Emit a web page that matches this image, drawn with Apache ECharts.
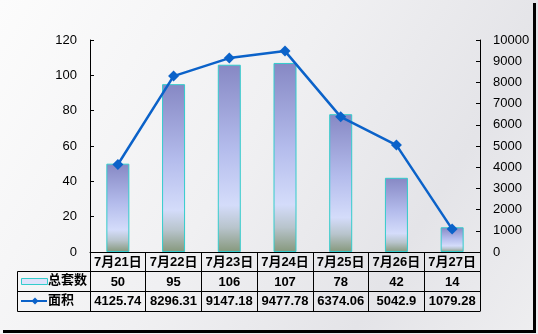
<!DOCTYPE html>
<html><head><meta charset="utf-8">
<script src="https://cdn.jsdelivr.net/npm/echarts@6/dist/echarts.min.js"></script>
<style>html,body{margin:0;padding:0;background:#fff}#c{width:538px;height:334px}</style>
</head><body><div id="c"></div>
<script>
const categories = ['7月21日','7月22日','7月23日','7月24日','7月25日','7月26日','7月27日'];
const totalUnits = [50, 95, 106, 107, 78, 42, 14];
const areaValues = [4125.74, 8296.31, 9147.18, 9477.78, 6374.06, 5042.9, 1079.28];
const areaLabels = ['4125.74','8296.31','9147.18','9477.78','6374.06','5042.9','1079.28'];
const seriesNames = ['总套数', '面积'];
const leftAxis = {min: 0, max: 120, interval: 20};
const rightAxis = {min: 0, max: 10000, interval: 1000};

const FONT = '"Liberation Sans", Arial, "Noto Sans CJK SC", sans-serif';
const GL = 90, GT = 40, GW = 390, GH = 212;
const ROW1 = GT + GH + 19.5, ROW2 = GT + GH + 39.5, ROW3 = GT + GH + 59.5;
const TX = 17.5;

const chart = echarts.init(document.getElementById('c'), null, {renderer: 'canvas'});
const tableLabel = (fmt) => ({
  show: true, interval: 0, margin: 3, color: '#000', fontFamily: FONT,
  fontWeight: 'bold', fontSize: 13, lineHeight: 14, formatter: fmt
});
const hiddenAxisBits = {axisTick: {show: false}, splitLine: {show: false}, axisLine: {show: false, onZero: false}};
const black = {color: '#000', width: 1};
const hline = (y, x1) => ({type: 'line', z: 50, shape: {x1: x1, y1: y, x2: GL + GW, y2: y}, style: {stroke: '#000', lineWidth: 1}});

chart.setOption({
  animation: false,
  backgroundColor: new echarts.graphic.LinearGradient(0, 0, 1, 1, [
    {offset: 0, color: '#fcfcfc'}, {offset: 0.45, color: '#f0f0f2'}, {offset: 0.75, color: '#e4e4e8'}, {offset: 1, color: '#eeeef0'}
  ]),
  grid: {left: GL, top: GT, width: GW, height: GH, containLabel: false},
  xAxis: [
    {type: 'category', data: categories, position: 'bottom',
     axisLine: {show: true, onZero: false, lineStyle: black},
     axisTick: {show: true, interval: 0, alignWithLabel: false, inside: false, length: ROW3 - (GT + GH), lineStyle: black},
     axisLabel: tableLabel(v => v), splitLine: {show: false}},
    Object.assign({type: 'category', data: categories, position: 'bottom', offset: 20,
     axisLabel: tableLabel((v, i) => String(totalUnits[i]))}, hiddenAxisBits),
    Object.assign({type: 'category', data: categories, position: 'bottom', offset: 39,
     axisLabel: tableLabel((v, i) => areaLabels[i])}, hiddenAxisBits)
  ],
  yAxis: [
    {type: 'value', min: leftAxis.min, max: leftAxis.max, interval: leftAxis.interval, position: 'left',
     axisLine: {show: true, onZero: false, lineStyle: black},
     axisTick: {show: true, inside: true, length: 4, lineStyle: black},
     axisLabel: {color: '#000', fontFamily: FONT, fontSize: 13, margin: 13, formatter: v => String(v)},
     splitLine: {show: false}},
    {type: 'value', min: rightAxis.min, max: rightAxis.max, interval: rightAxis.interval, position: 'right',
     axisLine: {show: true, onZero: false, lineStyle: black},
     axisTick: {show: true, inside: true, length: 4, lineStyle: black},
     axisLabel: {color: '#000', fontFamily: FONT, fontSize: 13, margin: 13, formatter: v => String(v)},
     splitLine: {show: false}}
  ],
  series: [
    {name: seriesNames[0], type: 'bar', xAxisIndex: 0, yAxisIndex: 0, data: totalUnits, barWidth: 23,
     itemStyle: {
       color: new echarts.graphic.LinearGradient(0, 0, 0, 1, [
         {offset: 0, color: '#8688c4'}, {offset: 0.45, color: '#b4bcec'}, {offset: 0.75, color: '#d4dcfa'},
         {offset: 0.87, color: '#b8c4cc'}, {offset: 1, color: '#86987c'}
       ]),
       borderColor: '#33cccc', borderWidth: 1
     }},
    {name: seriesNames[1], type: 'line', xAxisIndex: 0, yAxisIndex: 1, data: areaValues,
     symbol: 'diamond', symbolSize: 11,
     lineStyle: {color: '#0b62c9', width: 2.5}, itemStyle: {color: '#0b62c9'}}
  ],
  graphic: [
    hline(ROW1, TX), hline(ROW2, TX), hline(ROW3, TX),
    {type: 'line', z: 50, shape: {x1: TX, y1: ROW1, x2: TX, y2: ROW3}, style: {stroke: '#000', lineWidth: 1}},
    {type: 'rect', shape: {x: 21.5, y: 278.5, width: 26, height: 6}, style: {fill: '#dfe2fa', stroke: '#33cccc', lineWidth: 1}},
    {type: 'text', left: 48, top: (ROW1 + ROW2) / 2 - 8, style: {text: seriesNames[0], font: 'bold 13px ' + FONT, fill: '#000'}},
    {type: 'line', shape: {x1: 21, y1: 301, x2: 47, y2: 301}, style: {stroke: '#0b62c9', lineWidth: 2}},
    {type: 'polygon', shape: {points: [[35, 297.5], [38.5, 301], [35, 304.5], [31.5, 301]]}, style: {fill: '#0b62c9'}},
    {type: 'text', left: 48, top: (ROW2 + ROW3) / 2 - 8, style: {text: seriesNames[1], font: 'bold 13px ' + FONT, fill: '#000'}},
    {type: 'rect', shape: {x: 533, y: 3, width: 3, height: 330}, style: {fill: '#000'}},
    {type: 'rect', shape: {x: 3, y: 330, width: 533, height: 3}, style: {fill: '#000'}}
  ]
});
</script>
</body></html>
